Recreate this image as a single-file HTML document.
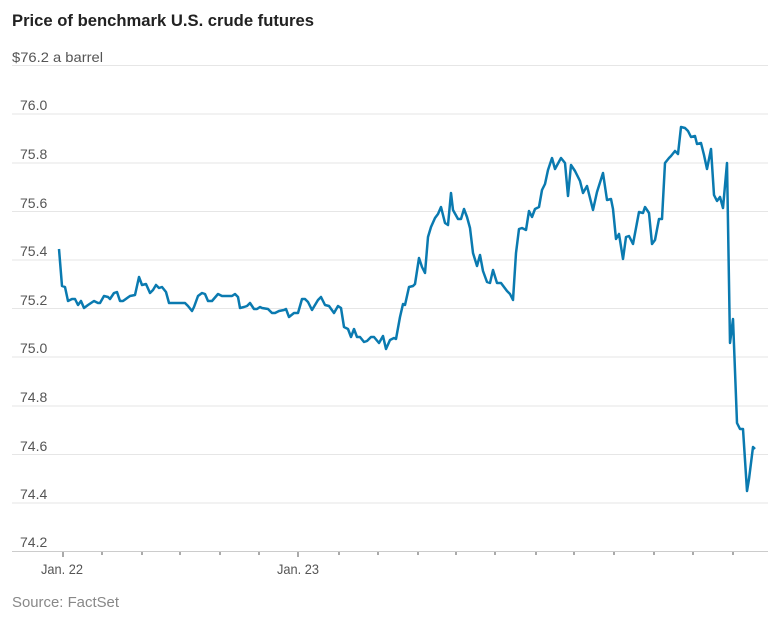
<!DOCTYPE html>
<html><head><meta charset="utf-8"><style>
body{margin:0;background:#fff;width:768px;height:620px;overflow:hidden;font-family:"Liberation Sans",sans-serif}
</style></head><body>
<svg width="768" height="620" xmlns="http://www.w3.org/2000/svg" font-family="Liberation Sans, sans-serif">
<text x="12" y="26" font-size="17" font-weight="bold" fill="#222" textLength="302" lengthAdjust="spacingAndGlyphs">Price of benchmark U.S. crude futures</text>
<g stroke="#e6e6e6" stroke-width="1">
<line x1="12" x2="768" y1="65.5" y2="65.5"/><line x1="12" x2="768" y1="114" y2="114"/>
<line x1="12" x2="768" y1="163" y2="163"/><line x1="12" x2="768" y1="211.5" y2="211.5"/>
<line x1="12" x2="768" y1="260" y2="260"/><line x1="12" x2="768" y1="308.5" y2="308.5"/>
<line x1="12" x2="768" y1="357" y2="357"/><line x1="12" x2="768" y1="406" y2="406"/>
<line x1="12" x2="768" y1="454.5" y2="454.5"/><line x1="12" x2="768" y1="503" y2="503"/>
<line x1="12" x2="768" y1="551.5" y2="551.5" stroke="#ccc"/>
</g>
<g font-size="14" fill="#555">
<text x="12" y="62" textLength="91" lengthAdjust="spacingAndGlyphs">$76.2 a barrel</text>
<text x="20" y="110">76.0</text><text x="20" y="159">75.8</text><text x="20" y="208">75.6</text>
<text x="20" y="256">75.4</text><text x="20" y="305">75.2</text><text x="20" y="353">75.0</text>
<text x="20" y="402">74.8</text><text x="20" y="451">74.6</text><text x="20" y="499">74.4</text>
<text x="20" y="547">74.2</text>
<text x="41" y="574" textLength="42" lengthAdjust="spacingAndGlyphs">Jan. 22</text>
<text x="277" y="574" textLength="42" lengthAdjust="spacingAndGlyphs">Jan. 23</text>
</g>
<g stroke="#555" stroke-width="1">
<line x1="63" x2="63" y1="552" y2="557"/><line x1="102" x2="102" y1="552" y2="555"/><line x1="142" x2="142" y1="552" y2="555"/><line x1="180" x2="180" y1="552" y2="555"/><line x1="220" x2="220" y1="552" y2="555"/><line x1="259" x2="259" y1="552" y2="555"/><line x1="298" x2="298" y1="552" y2="557"/><line x1="339" x2="339" y1="552" y2="555"/><line x1="378" x2="378" y1="552" y2="555"/><line x1="418" x2="418" y1="552" y2="555"/><line x1="456" x2="456" y1="552" y2="555"/><line x1="495" x2="495" y1="552" y2="555"/><line x1="536" x2="536" y1="552" y2="555"/><line x1="574" x2="574" y1="552" y2="555"/><line x1="614" x2="614" y1="552" y2="555"/><line x1="654" x2="654" y1="552" y2="555"/><line x1="693" x2="693" y1="552" y2="555"/><line x1="733" x2="733" y1="552" y2="555"/>
</g>
<text x="12" y="607" font-size="15" fill="#888" textLength="107" lengthAdjust="spacingAndGlyphs">Source: FactSet</text>
<polyline fill="none" stroke="#0a7ab0" stroke-width="2.5" stroke-linejoin="round" points="59,249 62,286 65,287 68,301 72,299 75,299 78,305 81,301 84,308 88,305 94,301 98,303 100,303 104,296 108,297 110,299 114,293 117,292 120,301 123,301 130,296 135,295 139,277 142,285 146,284 150,293 153,290 156,285 159,288 162,287 166,292 169,303 185,303 188,306 192,311 194,307 198,296 202,293 205,294 208,301 212,301 218,294 222,296 232,296 235,294 238,297 240,308 244,307 247,306 250,303 254,309 257,309 260,307 262,308 268,309 272,313 275,313 279,311 284,310 286,309 289,317 294,313 298,313 302,299 305,299 308,302 312,310 318,300 321,297 325,305 329,306 334,313 338,306 341,308 344,327 348,329 351,337 354,329 357,337 360,337 364,342 367,341 371,337 374,337 379,343 383,336 386,349 390,340 394,338 396,339 400,317 403,304 405,305 409,287 413,286 415,284 419,258 422,267 425,273 428,237 431,227 435,218 438,214 441,207 445,223 448,225 451,193 453,210 458,219 461,219 464,209 467,217 470,228 473,253 477,266 480,255 483,271 487,282 490,283 493,270 497,283 501,283 504,287 507,291 510,294 513,300 516,253 519,229 522,228 526,230 529,211 532,217 535,209 539,207 542,190 545,184 548,170 552,158 555,169 561,158 565,163 568,196 571,165 575,171 580,181 583,193 587,186 593,210 597,192 603,173 607,200 611,199 613,209 616,239 619,234 623,259 626,237 629,236 633,244 639,212 643,213 645,207 649,213 652,244 655,240 659,219 662,219 665,163 669,158 671,156 675,151 678,154 681,127 685,128 688,131 691,137 695,136 697,144 701,143 704,155 707,169 711,149 714,195 717,201 720,197 723,208 727,163 730,343 733,319 737,423 740,429 743,429 747,491 749,479 753,447 755,449"/>
</svg>
</body></html>
